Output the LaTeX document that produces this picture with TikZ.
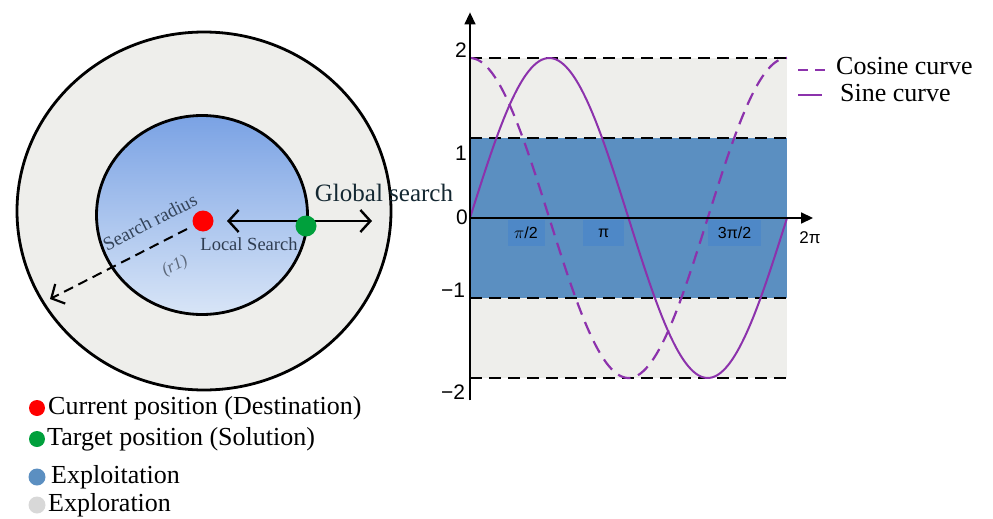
\documentclass[tikz,border=0pt]{standalone}
\usepackage{fontspec}
\setmainfont{Liberation Serif}
\newfontfamily\arialf{Liberation Sans}
\usetikzlibrary{shapes.geometric,arrows.meta}
\definecolor{exploitblue}{RGB}{91,143,193}
\definecolor{labelblue}{RGB}{78,136,199}
\definecolor{explgrey}{RGB}{238,238,235}
\definecolor{curvepurple}{RGB}{140,50,172}
\definecolor{innertop}{RGB}{122,162,228}
\definecolor{innerbot}{RGB}{216,229,247}
\definecolor{slatetext}{RGB}{52,68,90}
\tikzset{
  fs/.style={font=\fontsize{#1}{#1}\selectfont},
  dot/.style={circle, inner sep=0pt, minimum size=#1},
  legtext/.style={anchor=west, inner sep=0pt, fs=26},
  ticklab/.style={font=\arialf\fontsize{21}{21}\selectfont, inner sep=0pt},
  xlab/.style={fill=labelblue, inner sep=0pt, minimum height=26pt, font=\arialf\fontsize{16}{16}\selectfont},
  hdash/.style={black, line width=1.8pt, dash pattern=on 12pt off 7pt},
  barb/.style={-{Straight Barb[length=10pt, width=22pt, line width=2.2pt]}},
}
\begin{document}
\begin{tikzpicture}[x=1pt, y=-1pt]
\useasboundingbox (0,0) rectangle (993,519);
% ---------- left: search circles ----------
\node[ellipse, draw, line width=2.8pt, fill=explgrey, minimum width=374pt, minimum height=358pt, inner sep=0pt] (outer) at (204,211) {};
\node[ellipse, draw, line width=2.8pt, top color=innertop, bottom color=innerbot, minimum width=211pt, minimum height=199pt, inner sep=0pt] (inner) at (202,215) {};
\coordinate (lsend) at (227,221);
\coordinate (gsend) at (372,221);
\coordinate (radstart) at (187,229);
\coordinate (radend) at (50,299);
\draw[barb, line width=2pt, dash pattern=on 10pt off 6pt] (radstart) -- (radend);
\draw[{Straight Barb[length=10pt, width=22pt, line width=2.4pt]}-{Straight Barb[length=10pt, width=22pt, line width=2.4pt]}, line width=2.4pt] (lsend) -- (gsend);
\node[dot=21pt, fill=red] (cur) at (203,221) {};
\node[dot=21pt, fill={rgb,255:red,0;green,160;blue,60}] (tgt) at (306,226) {};
\node[fs=19, text=slatetext, rotate=27, inner sep=0pt] (srad) at (150,222) {Search radius};
\node[fs=17, text=slatetext!80, rotate=27, inner sep=0pt] (r1) at (175,266) {\itshape (r1)};
\node[fs=18.5, text=slatetext!90!black, inner sep=0pt] (lsearch) at (249,244) {Local Search};
\node[fs=25, text={rgb,255:red,20;green,40;blue,50}, inner sep=0pt] (gsearch) at (384,193) {Global search};
% ---------- right: sine / cosine plot ----------
\begin{scope}[shift={(470,218)}, x=50.45pt, y=80pt]
  \fill[explgrey] (0,-2) rectangle (2*pi,2);
  \fill[exploitblue] (0,-1) rectangle (2*pi,1);
  \foreach \yy in {2,1,-1,-2} {\draw[hdash] (0,\yy) -- (2*pi,\yy);}
  \node[xlab, minimum width=37pt] (lpi2) at (1.11,-0.19) {$\pi$/2};
  \node[xlab, minimum width=41pt] (lpi) at (2.647,-0.19) {π};
  \node[xlab, minimum width=53pt] (l3pi2) at (5.243,-0.19) {3π/2};
  \draw[curvepurple, line width=2.2pt, dash pattern=on 13pt off 8pt, domain=0:2*pi, samples=120, smooth] plot (\x, {2*cos(\x r)});
  \draw[curvepurple, line width=2pt, domain=0:2*pi, samples=120, smooth] plot (\x, {2*sin(\x r)});
  \coordinate (xo) at (0,0);
  \coordinate (xend) at (6.8,0);
  \coordinate (ybot) at (0,-2.28);
  \coordinate (ytop) at (0,2.57);
  \draw[line width=1.6pt, -{Triangle[length=12pt, width=11pt]}] (xo) -- (xend);
  \draw[line width=1.4pt, -{Triangle[length=12pt, width=11pt]}] (ybot) -- (ytop);
\end{scope}
\node[ticklab] (t2) at (461,50) {2};
\node[ticklab] (t1) at (461,153) {1};
\node[ticklab] (t0) at (462,217) {0};
\node[ticklab] (tm1) at (453,290) {−1};
\node[ticklab] (tm2) at (453,392) {−2};
\node[font=\arialf\fontsize{17}{17}\selectfont, inner sep=0pt] (t2pi) at (810,238) {2π};
% ---------- curve legend ----------
\coordinate (cl1) at (798,70);
\coordinate (cl2) at (829,70);
\coordinate (sl1) at (798,95);
\coordinate (sl2) at (822,95);
\draw[curvepurple, line width=2.2pt, dash pattern=on 10pt off 7pt] (cl1) -- (cl2);
\draw[curvepurple, line width=2.2pt] (sl1) -- (sl2);
\node[legtext] (cosl) at (836,66) {Cosine curve};
\node[legtext] (sinl) at (840,93) {Sine curve};
% ---------- bottom legend ----------
\node[dot=16pt, fill=red] (d1) at (37,408) {};
\node[dot=16pt, fill={rgb,255:red,0;green,160;blue,60}] (d2) at (37,439) {};
\node[dot=17pt, fill=exploitblue] (d3) at (37,477) {};
\node[dot=17pt, fill={rgb,255:red,216;green,216;blue,216}] (d4) at (37,505) {};
\node[legtext] (lt1) at (48,408) {Current position (Destination)};
\node[legtext] (lt2) at (47,439) {Target position (Solution)};
\node[legtext] (lt3) at (51,477) {Exploitation};
\node[legtext] (lt4) at (48,505) {Exploration};
\end{tikzpicture}
\end{document}
